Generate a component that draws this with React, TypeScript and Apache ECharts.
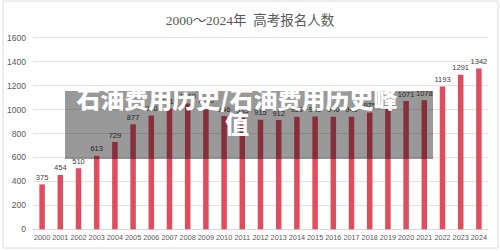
import React, { useEffect, useRef } from "react";
import * as echarts from "echarts";

const years = [
  "2000", "2001", "2002", "2003", "2004", "2005", "2006", "2007", "2008",
  "2009", "2010", "2011", "2012", "2013", "2014", "2015", "2016", "2017",
  "2018", "2019", "2020", "2021", "2022", "2023", "2024",
];
const applicants = [
  375, 454, 510, 613, 729, 877, 950, 1010, 1050, 1020, 946, 933, 915, 912,
  939, 942, 940, 940, 975, 1031, 1071, 1078, 1193, 1291, 1342,
];
const yTicks = [0, 200, 400, 600, 800, 1000, 1200, 1400, 1600];

const titleText = "2000～2024年  高考报名人数";
const bannerText = "石油费用历史/石油费用历史峰\n值";

export default function App() {
  const ref = useRef<HTMLDivElement>(null);

  useEffect(() => {
    if (!ref.current) return;
    const chart = echarts.init(ref.current, null, { renderer: "svg" });
    chart.setOption({
      animation: false,
      backgroundColor: "#ffffff",
      title: {
        text: titleText,
        left: "center",
        top: 9,
        textStyle: {
          fontFamily: "'Liberation Serif', 'Noto Sans CJK SC', serif",
          fontSize: 13.5,
          fontWeight: "normal",
          color: "#595959",
        },
      },
      grid: { left: 33, right: 12, top: 37.7, bottom: 21.7 },
      xAxis: {
        type: "category",
        data: years,
        axisLine: { show: true, lineStyle: { color: "#d9d9d9", width: 1 } },
        axisTick: { show: false },
        axisLabel: {
          interval: 0,
          margin: 5,
          fontSize: 7.3,
          color: "#595959",
          fontFamily: "'Liberation Sans', Arial, sans-serif",
        },
      },
      yAxis: {
        type: "value",
        min: yTicks[0],
        max: yTicks[yTicks.length - 1],
        interval: 200,
        axisLine: { show: false },
        axisTick: { show: false },
        splitLine: { lineStyle: { color: "#e3e3e3", width: 1 } },
        axisLabel: {
          margin: 7,
          fontSize: 8.5,
          color: "#595959",
          fontFamily: "'Liberation Sans', Arial, sans-serif",
          formatter: (v: number) => String(v),
        },
      },
      series: [
        {
          type: "bar",
          data: applicants,
          barWidth: 5.5,
          itemStyle: { color: "#df4d5f" },
          label: {
            show: true,
            position: "top",
            distance: 3,
            fontSize: 7.5,
            color: "#404040",
            fontFamily: "'Liberation Sans', Arial, sans-serif",
          },
        },
      ],
      graphic: [
        {
          type: "rect",
          shape: { x: 3, y: 1, width: 495, height: 247 },
          style: { fill: "none", stroke: "#dcdcdc", lineWidth: 1 },
          silent: true,
          z: 50,
        },
        {
          type: "rect",
          shape: { x: 65, y: 91, width: 368, height: 68 },
          style: { fill: "rgba(0,0,0,0.4)" },
          silent: true,
          z: 100,
        },
        {
          type: "text",
          x: 237,
          y: 110,
          style: {
            text: bannerText,
            fill: "#ffffff",
            fontSize: 24,
            fontWeight: 900,
            lineHeight: 25,
            align: "center",
            verticalAlign: "middle",
            fontFamily: "'Noto Sans CJK SC', sans-serif",
          },
          silent: true,
          z: 101,
        },
      ],
    });
    return () => chart.dispose();
  }, []);

  return <div ref={ref} style={{ width: 500, height: 251, position: "absolute", left: 0, top: 0 }} />;
}
